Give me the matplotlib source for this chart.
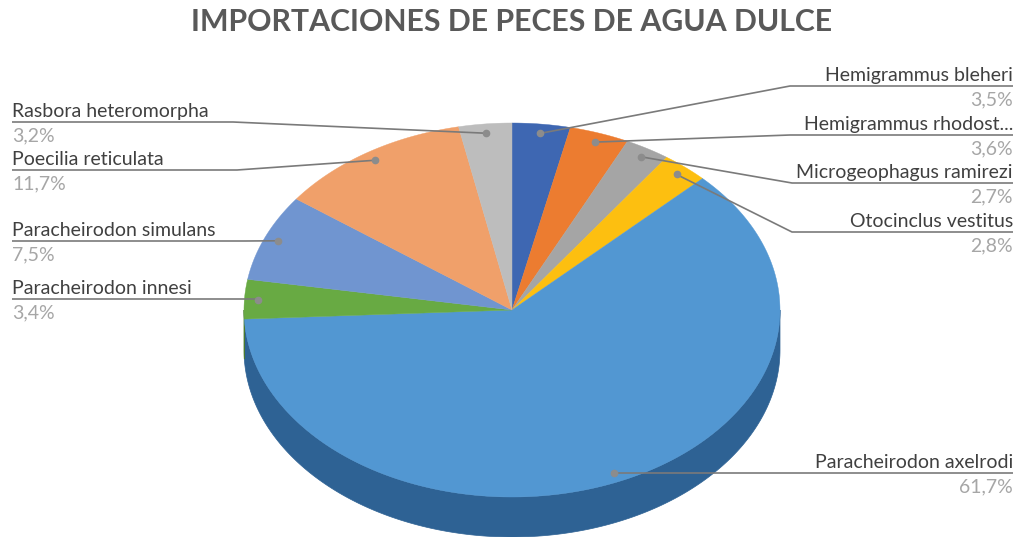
import matplotlib.pyplot as plt
import numpy as np
from matplotlib.patches import Polygon

plt.rcParams['font.family'] = ['Lato', 'DejaVu Sans']

title = "IMPORTACIONES DE PECES DE AGUA DULCE"
names = ["Hemigrammus bleheri", "Hemigrammus rhodost...", "Microgeophagus ramirezi",
         "Otocinclus vestitus", "Paracheirodon axelrodi", "Paracheirodon innesi",
         "Paracheirodon simulans", "Poecilia reticulata", "Rasbora heteromorpha"]
shares = [3.5, 3.6, 2.7, 2.8, 61.7, 3.4, 7.5, 11.7, 3.2]
top_colors = ["#3e67b2", "#ec7c30", "#a5a5a5", "#fdbf10", "#5297d2",
              "#68aa43", "#7095d0", "#f0a06a", "#bdbdbd"]
side_colors = ["#2b4a82", "#ad5a22", "#787878", "#b88a0b", "#2e6294",
               "#4a7a30", "#506c98", "#ae744c", "#8a8a8a"]

# label layout: side, leader line y, elbow x
label_side = ["r", "r", "r", "r", "r", "l", "l", "l", "l"]
label_line_y = [86, 135, 183, 232, 473, 299, 241, 170, 122]
label_elbow_x = [790, 790, 792, 792, None, None, 245, 237, 233]

cx, cy, rx, ry, depth = 512, 310, 268, 187, 40
W, H = 1019, 537

fig = plt.figure(figsize=(W / 100, H / 100), dpi=100)
ax = fig.add_axes([0, 0, 1, 1])
ax.set_xlim(0, W)
ax.set_ylim(H, 0)
ax.axis("off")

def pt(theta, f=1.0, dy=0.0):
    # theta in degrees, clockwise from 12 o'clock
    t = np.radians(theta)
    return cx + rx * f * np.sin(t), cy - ry * f * np.cos(t) + dy

fr = np.array(shares) / sum(shares)
starts = 360 * np.concatenate([[0], np.cumsum(fr)[:-1]])
ends = 360 * np.cumsum(fr)

# side walls (front half only)
for a0, a1, c in zip(starts, ends, side_colors):
    lo, hi = max(a0, 90), min(a1, 270)
    if hi <= lo:
        continue
    th = np.linspace(lo, hi, 200)
    xt, yt = pt(th)
    xb, yb = pt(th[::-1], dy=depth)
    poly = np.column_stack([np.concatenate([xt, xb]), np.concatenate([yt, yb])])
    ax.add_patch(Polygon(poly, closed=True, fc=c, ec=c, lw=0.5))

# top surface
for a0, a1, c in zip(starts, ends, top_colors):
    th = np.linspace(a0, a1, 300)
    xt, yt = pt(th)
    poly = np.column_stack([np.concatenate([[cx], xt]), np.concatenate([[cy], yt])])
    ax.add_patch(Polygon(poly, closed=True, fc=c, ec=c, lw=0.3))

# leader lines and labels
line_c = "#7a7a7a"
for i, name in enumerate(names):
    mid = (starts[i] + ends[i]) / 2
    dx, dyy = pt(mid, 0.95)
    ly = label_line_y[i]
    pct = f"{shares[i]:.1f}%".replace(".", ",")
    if label_side[i] == "r":
        x_end, ha = 1013, "right"
    else:
        x_end, ha = 12, "left"
    if label_elbow_x[i] is None:
        xs = [dx, x_end]
        ys = [ly, ly]
    else:
        xs = [dx, label_elbow_x[i], x_end]
        ys = [dyy, ly, ly]
    ax.plot(xs, ys, color=line_c, lw=1.2, solid_capstyle="butt")
    ax.plot([dx], [dyy], "o", color="#8c8c8c", ms=4.5)
    ax.text(x_end, ly - 2, name, ha=ha, va="bottom", fontsize=14, color="#404040")
    ax.text(x_end, ly + 5, pct, ha=ha, va="top", fontsize=14, color="#a6a6a6")

ax.text(512, 22, title, ha="center", va="center", fontsize=21.8, fontweight="bold",
        color="#595959")

fig.savefig("out.png", dpi=100)
